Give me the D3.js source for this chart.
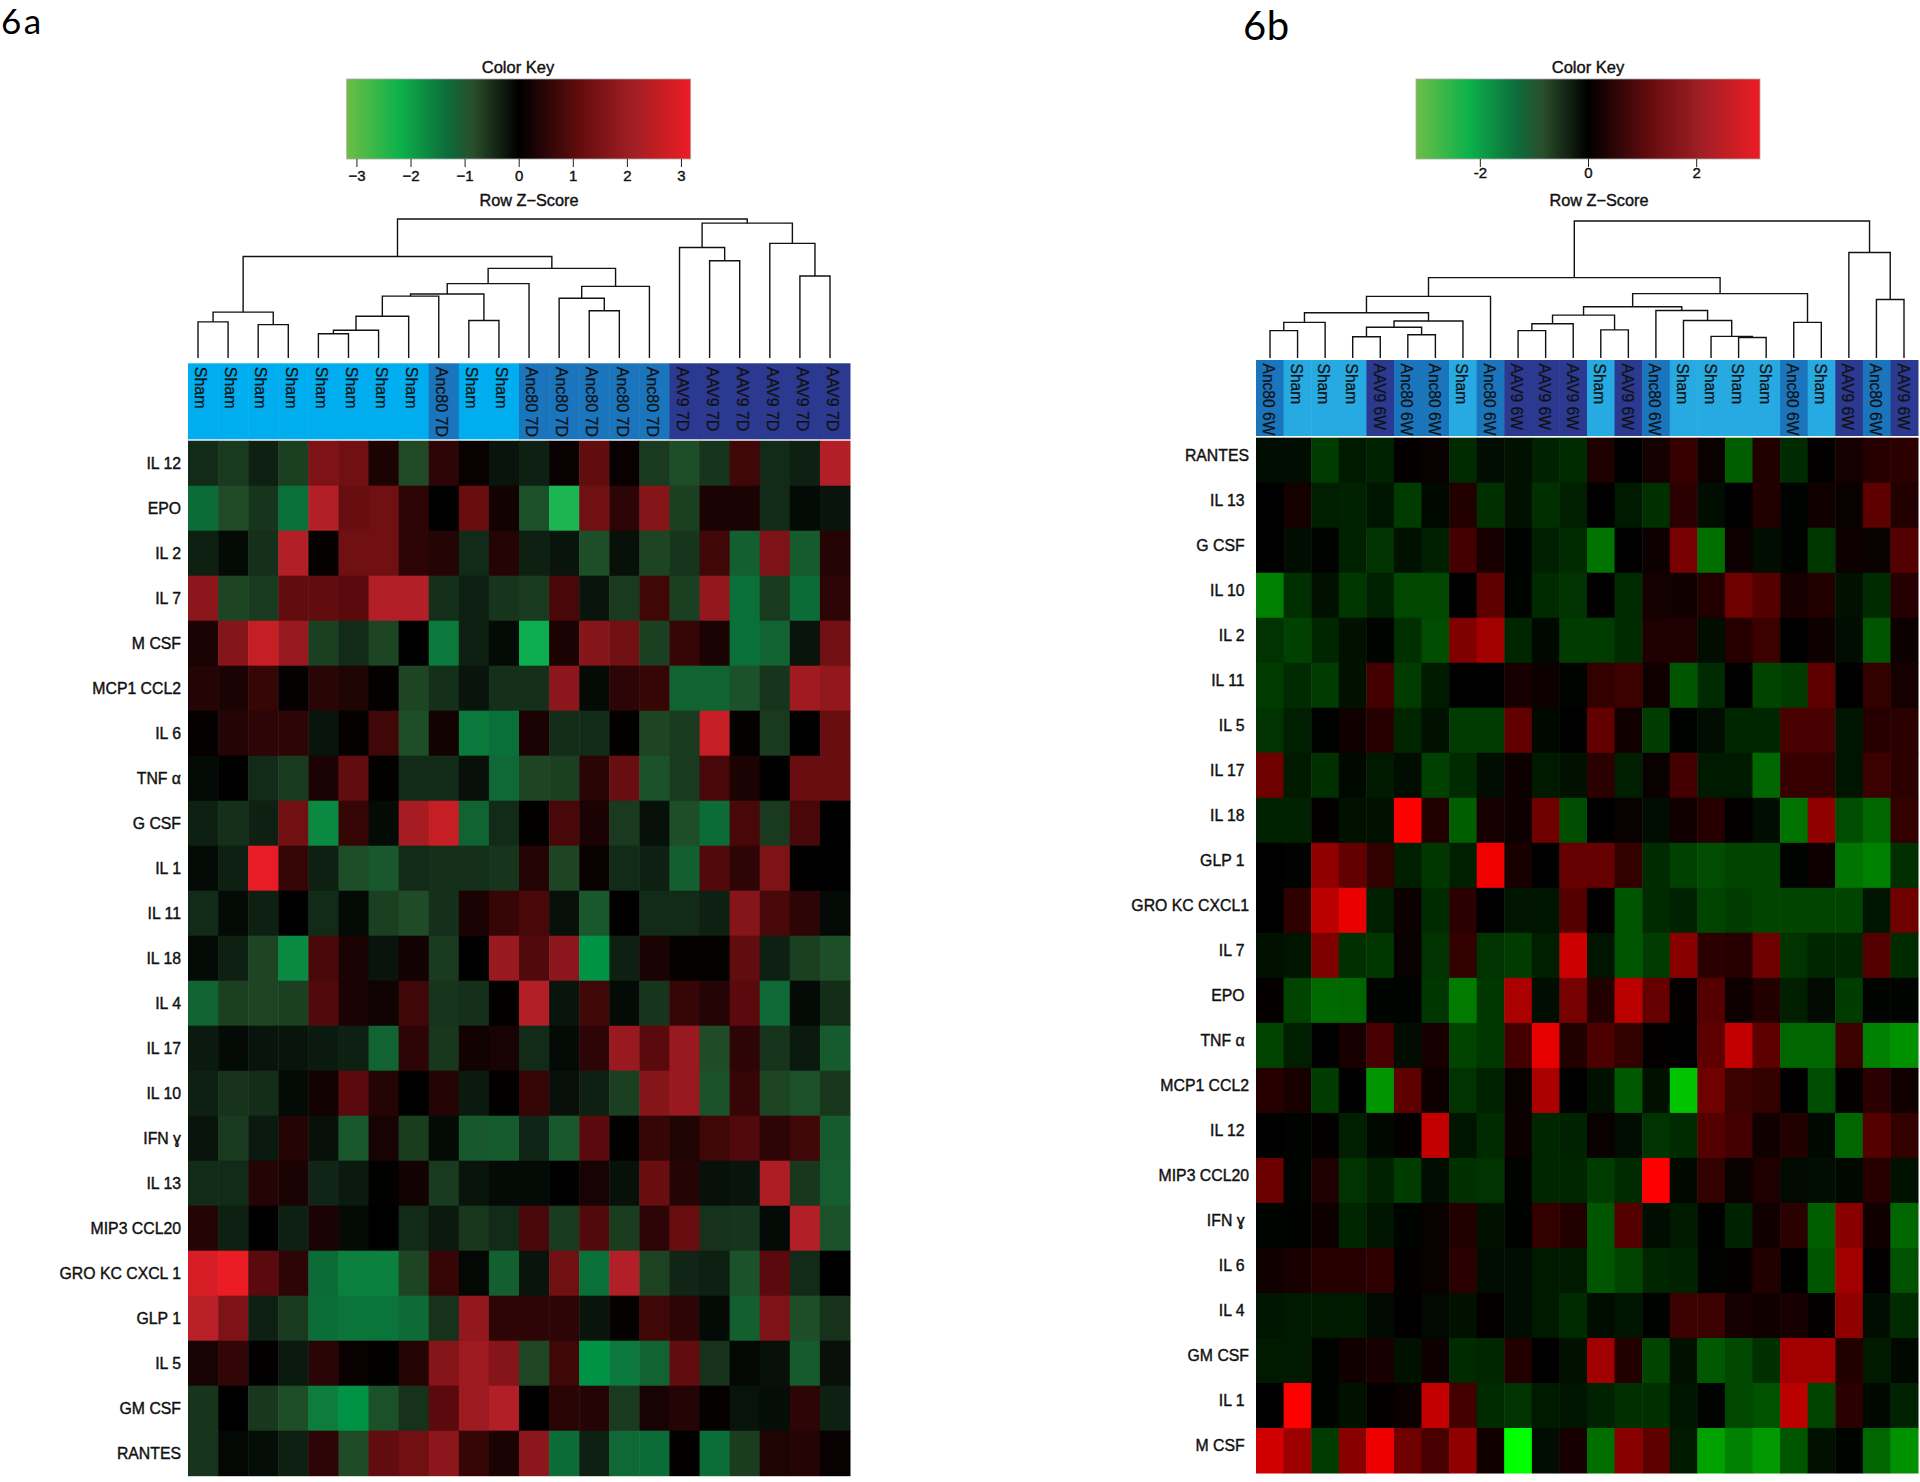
<!DOCTYPE html>
<html>
<head>
<meta charset="utf-8">
<script src="https://cdn.jsdelivr.net/npm/d3@7"></script>
<style>
  html, body { margin: 0; padding: 0; background: #fff; }
  text { font-family: "Liberation Sans", Arial, sans-serif; fill: #111; }
  .row-label text, .key-label, .key-axis text { stroke: #111; stroke-width: 0.4px; }
  .col-label { stroke: #111; stroke-width: 0.25px; }
  .panel-label { font-family: Lato, sans-serif; fill: #000; }
</style>
</head>
<body>
<svg id="chart" width="1920" height="1482"></svg>
<script>
const rowsA = ['IL 12', 'EPO', 'IL 2', 'IL 7', 'M CSF', 'MCP1 CCL2', 'IL 6', 'TNF α', 'G CSF', 'IL 1', 'IL 11', 'IL 18', 'IL 4', 'IL 17', 'IL 10', 'IFN ɣ', 'IL 13', 'MIP3 CCL20', 'GRO KC CXCL 1', 'GLP 1', 'IL 5', 'GM CSF', 'RANTES']
const colsA = ['Sham', 'Sham', 'Sham', 'Sham', 'Sham', 'Sham', 'Sham', 'Sham', 'Anc80 7D', 'Sham', 'Sham', 'Anc80 7D', 'Anc80 7D', 'Anc80 7D', 'Anc80 7D', 'Anc80 7D', 'AAV9 7D', 'AAV9 7D', 'AAV9 7D', 'AAV9 7D', 'AAV9 7D', 'AAV9 7D']
const valuesA = [
  [-.4, -.7, -.3, -.8, 1.5, 1.3, .3, -1, .5, .1, -.2, -.3, .1, 1.1, .1, -.7, -1.1, -.6, .7, -.4, -.3, 2.3],
  [-1.8, -1, -.6, -1.9, 2.3, 1.2, 1.3, .5, 0, 1.2, .2, -1.15, -2.6, 1.3, .5, 1.6, -.8, .3, .3, -.4, -.1, -.2],
  [-.3, -.1, -.5, 2.3, .05, 1.3, 1.3, .5, .4, -.4, .4, -.3, -.2, -1.1, -.15, -.9, -.6, .7, -1.5, 1.5, -1.4, .4],
  [1.7, -.9, -.7, 1.1, 1.1, 1, 2.3, 2.3, -.5, -.3, -.6, -.7, .8, -.2, -.7, .7, -.8, 1.8, -1.9, -.7, -1.8, .5],
  [.3, 1.6, 2.6, 1.9, -.8, -.4, -.9, 0, -2, -.3, -.1, -2.5, .3, 1.6, 1.3, -.8, .6, .3, -1.9, -1.6, -.2, 1.3],
  [.4, .3, .6, .05, .45, .35, .05, -.9, -.5, -.2, -.5, -.5, 1.7, -.1, .5, .6, -1.6, -1.6, -1.2, -.6, 2, 1.8],
  [.05, .4, .5, .5, -.2, .05, .7, -1.1, .2, -2, -1.9, .3, -.45, -.4, .03, -.9, -.7, 2.6, .05, -.7, 0, 1.2],
  [-.1, 0, -.4, -.7, .3, 1.1, .03, -.4, -.4, -.15, -1.7, -.9, -.8, .45, 1.2, -1.2, -.7, .8, .3, 0, 1.2, 1.2],
  [-.3, -.5, -.3, 1.3, -2.2, .6, -.1, 2.1, 2.6, -1.6, -.4, .03, .8, .3, -.7, -.15, -1.1, -1.8, .8, -.7, .8, 0],
  [-.1, -.3, 3.1, .6, -.3, -1.1, -1.3, -.4, -.5, -.5, -.6, .4, -.9, .1, -.4, -.3, -1.5, .9, .5, 1.5, 0, 0],
  [-.4, -.1, -.3, 0, -.4, -.1, -.8, -1.05, -.5, .3, .6, .8, -.15, -1.3, 0, -.4, -.4, -.3, 1.6, .8, .5, -.1],
  [-.1, -.3, -.9, -2.2, .8, .3, -.2, .2, -.7, 0, 1.9, .9, 1.7, -2.3, -.3, .3, .05, .05, 1.1, -.3, -.8, -1.1],
  [-1.6, -.8, -.9, -.8, .9, .3, .15, .7, -.6, -.5, .03, 2.3, -.2, .7, -.1, -.6, .6, .4, 1, -1.7, -.1, -.45],
  [-.25, -.1, -.2, -.2, -.25, -.3, -1.6, .5, -.65, .2, .25, -.4, -.1, .5, 1.9, 1, 1.9, -1.05, .5, -.6, -.25, -1.4],
  [-.3, -.55, -.45, -.1, .2, 1, .4, 0, .4, -.25, .03, .6, -.15, -.3, -.8, 1.6, 1.9, -1.2, .6, -.9, -1.15, -.65],
  [-.2, -.7, -.25, .4, -.15, -1.3, .25, -.75, -.1, -1.35, -1.4, -.35, -1.3, 1, .03, .6, .35, .7, .9, .5, .7, -1.4],
  [-.4, -.4, .4, .3, -.35, -.25, .03, .2, -.7, -.2, -.1, -.1, 0, .25, -.15, 1.2, .4, -.15, -.2, 2.2, -.65, -1.45],
  [.4, -.3, 0, -.3, .3, -.1, 0, -.4, -.25, -.65, -.4, .8, -.7, .9, -.75, .5, 1.2, -.55, -.6, -.1, 2.3, -1.2],
  [2.85, 3.15, 1, .5, -1.8, -2.1, -2.1, -.9, .6, -.08, -1.5, -.2, 1.3, -1.9, 2.3, -.85, -.35, -.3, -1.2, 1, -.4, 0],
  [2.4, 1.5, -.3, -.7, -1.85, -1.95, -1.95, -1.75, -.55, 1.8, .5, .5, .5, -.2, .05, .7, .5, -.1, -1.5, 1.5, -1.1, -.55],
  [.25, .55, .03, -.25, .45, .1, .03, .4, 1.6, 1.95, 1.6, -.95, .7, -2.3, -2, -1.6, 1.1, -.55, -.08, -.15, -1.4, -.15],
  [-.6, 0, -.65, -1.1, -2.05, -2.3, -1.15, -.55, 1, 1.95, 2.3, 0, .45, .4, -.7, .25, .4, .05, -.18, -.12, .5, -.3],
  [-.6, -.08, -.12, -.3, .5, -1.05, 1.1, 1.3, 1.7, .6, .3, 1.7, -1.8, -.3, -1.7, -1.8, .03, -1.85, -.75, .35, .4, .08]
]
// dendrogram merges as [height, left, right], a plain number is a column index
const treeA = [1,
  [.73,
    [.33, [.26, 0, 1], [.24, 2, 3]],
    [.645,
      [.535,
        [.46,
          [.445, [.3, [.2, [.175, 4, 5], 6], 7], 8],
          [.27, 9, 10]],
        11],
      [.515, [.43, 12, [.34, 13, 14]], 15]]],
  [.97,
    [.795, 16, [.7, 17, 18]],
    [.825, 19, [.59, 20, 21]]]]

const rowsB = ['RANTES', 'IL 13 ', 'G CSF ', 'IL 10 ', 'IL 2 ', 'IL 11 ', 'IL 5 ', 'IL 17 ', 'IL 18 ', 'GLP 1 ', 'GRO KC CXCL1', 'IL 7 ', 'EPO ', 'TNF α ', 'MCP1 CCL2', 'IL 12 ', 'MIP3 CCL20', 'IFN ɣ ', 'IL 6 ', 'IL 4 ', 'GM CSF', 'IL 1 ', 'M CSF ']
const colsB = ['Anc80 6W', 'Sham', 'Sham', 'Sham', 'AAV9 6W', 'Anc80 6W', 'Anc80 6W', 'Sham', 'Anc80 6W', 'AAV9 6W', 'AAV9 6W', 'AAV9 6W', 'Sham', 'AAV9 6W', 'Anc80 6W', 'Sham', 'Sham', 'Sham', 'Sham', 'Anc80 6W', 'Sham', 'AAV9 6W', 'Anc80 6W', 'AAV9 6W']
const valuesB = [
  [-.15, -.15, -.7, -.3, -.4, .05, .1, -.5, -.15, -.2, -.4, -.5, .35, 0, .25, .65, .1, -1.1, .4, -.5, .03, .25, .45, .5],
  [0, .25, -.35, -.4, -.25, -.7, -.1, .4, -.55, -.2, -.55, -.35, 0, -.3, -.55, .5, -.15, 0, .4, -.05, .2, .1, 1.1, .4],
  [0, -.15, -.03, -.4, -.6, -.2, -.35, .8, .3, -.05, -.35, -.5, -1.35, 0, .15, 1.4, -1.3, .15, -.15, -.03, -.65, .15, .1, 1],
  [-1.5, -.55, -.2, -.65, -.4, -.85, -.85, 0, 1.1, -.05, -.5, -.6, 0, -.5, .25, .2, .4, 1.3, 1, .3, .4, -.2, -.5, .45],
  [-.6, -.75, -.45, -.2, -.05, -.55, -.9, 1.5, 1.9, -.45, -.1, -.7, -.7, -.5, .35, .35, -.15, .45, .7, 0, .15, -.15, -1, .15],
  [-.7, -.5, -.7, -.2, .8, -.7, -.3, 0, 0, .3, .15, -.05, .6, .7, .2, -1, -.5, 0, -.8, -.7, 1.1, 0, .6, .25],
  [-.6, -.35, -.02, .2, .45, -.45, -.2, -.7, -.7, 1.15, -.1, 0, 1.15, .2, -.7, -.02, -.15, -.45, -.45, .85, .85, -.25, .45, .5],
  [1.3, -.3, -.55, -.1, -.3, -.15, -.75, -.5, -.15, .15, -.3, -.2, .5, -.35, .1, .8, -.3, -.3, -1.2, .65, .65, -.25, .7, .5],
  [-.4, -.4, .03, -.2, -.2, 3, .4, -1.1, .3, .15, 1.3, -.9, 0, .1, -.15, .2, .45, .03, -.15, -1.35, 1.7, -.9, -1.2, .6],
  [0, -.03, 1.7, 1.15, .6, -.35, -.65, -.35, 2.85, .3, 0, 1.2, 1.2, .6, -.5, -.75, -.9, -.8, -.8, -.03, .15, -1.35, -1.5, -.55],
  [0, .55, 2.2, 2.75, -.35, .15, -.5, .5, 0, -.25, -.25, 1, .03, -1, -.5, -.4, -.8, -.7, -.8, -.8, -.8, -.8, -.25, 1.3],
  [-.2, -.25, 1.5, -.55, -.65, .1, -.6, .6, -.6, -.7, -.35, 2.4, -.25, -1, -.7, 1.6, .5, .45, 1.3, -.6, -.45, -.45, 1, -.5],
  [.05, -.8, -1.25, -1.2, -.05, -.03, -.65, -1.45, -.65, 2, -.15, 1.4, .4, 2.2, 1.2, .05, 1, .15, .4, -.35, -.12, -.7, -.03, -.03],
  [-.8, -.35, 0, .3, .85, -.15, .3, -.8, -.65, .8, 2.7, .4, .9, .6, .05, 0, 1.1, 2.3, 1.1, -1.2, -1.2, .7, -1.5, -1.7],
  [.45, .3, -.7, 0, -1.75, 1.1, .15, -.6, -.4, .1, 2, 0, -.2, -1.05, -.2, -2.3, 1.3, .7, .6, 0, -.9, .03, .5, .2],
  [0, -.03, .05, -.35, -.1, .05, 2.3, -.25, -.5, .15, -.45, -.4, .1, -.15, -.6, -.5, 1, .8, .2, .4, -.1, -1.2, 1, .6],
  [1.25, -.05, .35, -.6, -.4, -.7, -.15, -.55, -.6, -.03, -.45, -.45, -.7, -.5, 3, -.1, .6, .1, .35, -.12, -.15, -.1, .45, -.2],
  [-.05, -.02, .15, -.45, -.25, -.05, .1, .4, -.2, -.02, .6, .4, -1, 1, -.15, -.3, -.02, -.4, .2, .5, -1.1, 1.6, .2, -1.2],
  [.2, .3, .45, .45, .55, .03, .1, .5, -.15, -.15, -.3, -.3, -1, -.8, -.45, -.4, -.03, .05, .4, 0, -1, 1.9, .02, -.95],
  [-.25, -.3, -.3, -.3, -.12, 0, -.12, -.2, .05, -.15, -.3, -.5, -.15, -.25, -.02, .7, .7, .25, .2, .3, .05, 1.7, -.15, -.5],
  [-.3, -.3, -.03, .2, .3, -.2, .15, -.5, -.45, .4, 0, -.2, 1.9, .4, -.8, -.2, -1.05, -.85, -.55, 1.9, 1.9, .4, -.3, -.1],
  [0, 3, -.03, -.2, .03, .12, 2.3, .8, -.5, -.6, -.3, -.25, -.4, -.55, -.55, -.25, -.03, -.85, -.95, 2.2, -.8, .5, -.1, -.4],
  [2.45, 1.85, -.7, 1.6, 2.8, 1.3, .85, 1.7, .2, -3, -.15, .3, -1.3, 1.6, 1.1, -.3, -1.9, -1.5, -1.8, -1, -.2, -.05, -1.2, -1.7]
]
const treeB = [1,
  [.587,
    [.45,
      [.33,
        [.26, [.2, 0, 1], 2],
        [.27, [.225, [.155, 3, 4], [.17, 5, 6]], 7]],
      8],
    [.47,
      [.374,
        [.313, [.25, [.2, 9, 10], 11], [.205, 12, 13]],
        [.347, 14, [.274, 15, [.158, 16, [.15, 17, 18]]]]],
      [.26, 19, 20]]],
  [.77, 21, [.427, 22, 23]]]

const keyTicksA = [-3, -2, -1, 0, 1, 2, 3]
const keyTicksB = [-2, 0, 2]
const keyStops = [-3.18, -2.2, -1.3, -.85, 0, 1.2, 2.1, 3.18]
const keyColors = ['#6dbe45', '#0db14b', '#0c6b3a', '#2a4f2c', '#000000', '#690d0f', '#a01f24', '#ed1c24']

const keyColor = d3.scaleLinear().domain(keyStops).range(keyColors)
const cellColorA = d3.scaleLinear()
  .domain([-3.18, -2.6, -2.5, -2.3, -2.15, -1.9, -1, -.4, 0, 1, 1.6, 2.3, 3.18])
  .range(['#6abd45', '#1bb552', '#0bad4e', '#009245', '#0d8540', '#0a7039', '#204a25', '#122a18', '#000000', '#5a0a0c', '#851519', '#b21f26', '#ed1c24'])
const cellColorB = d3.scaleLinear().domain([-3, 0, 3]).range(['#00ff00', '#000000', '#ff0000'])

const svg = d3.select('#chart')
const defs = svg.append('defs')

function drawTree (g, tree, x, y) {
  const walk = node => {
    if (typeof node === 'number') return { x: x(node), y: y(0) }
    const [h, left, right] = node
    const a = walk(left)
    const b = walk(right)
    g.append('path')
      .attr('d', `M${a.x},${a.y}V${y(h)}H${b.x}V${b.y}`)
    return { x: (a.x + b.x) / 2, y: y(h) }
  }
  walk(tree)
}

function drawKey (g, o) {
  const x = d3.scaleLinear().domain([-3.18, 3.18]).range(o.keyX)
  const offset = d3.scaleLinear().domain([-3.18, 3.18]).range([0, 100])

  defs.append('linearGradient')
    .attr('id', o.keyId)
    .selectAll('stop')
    .data(keyStops)
    .enter().append('stop')
    .attr('offset', d => `${offset(d)}%`)
    .attr('stop-color', d => keyColor(d))

  g.append('rect')
    .attr('x', o.keyX[0]).attr('y', 79)
    .attr('width', o.keyX[1] - o.keyX[0]).attr('height', 80)
    .attr('fill', `url(#${o.keyId})`)
    .attr('stroke', '#aaa').attr('stroke-width', 0.8)

  const axis = d3.axisBottom(x).tickValues(o.keyTicks).tickSize(8).tickPadding(o.tickPad)
    .tickFormat(o.tickFormat)
  const ax = g.append('g').attr('class', 'key-axis')
    .attr('transform', 'translate(0,159)')
    .call(axis)
  ax.select('.domain').remove()
  ax.selectAll('line').attr('stroke', '#222')
  ax.selectAll('text').attr('font-size', 15).attr('fill', '#111')

  g.append('text').attr('class', 'key-label')
    .attr('x', o.keyTitleX).attr('y', 73)
    .attr('text-anchor', 'middle').attr('font-size', 16.5)
    .text('Color Key')
  g.append('text').attr('class', 'key-label')
    .attr('x', o.scoreX).attr('y', 206)
    .attr('text-anchor', 'middle').attr('font-size', 16.3)
    .text('Row Z\u2212Score')
}

function drawPanel (o) {
  const g = svg.append('g')
  const nCols = o.cols.length
  const x = d3.scaleBand().domain(d3.range(nCols)).range(o.heatX)
  const y = d3.scaleBand().domain(o.rows).range(o.heatY)

  g.append('text').attr('class', 'panel-label')
    .attr('x', o.titleX).attr('y', o.titleY)
    .attr('font-size', o.titleFont)
    .attr('letter-spacing', o.titleSpacing)
    .text(o.title)

  drawKey(g, o)

  // dendrogram above the columns
  const treeX = d3.scaleLinear().domain([0, nCols - 1]).range(o.treeX)
  const treeY = d3.scaleLinear().domain([0, 1]).range(o.treeY)
  const treeG = g.append('g')
    .attr('fill', 'none').attr('stroke', '#111').attr('stroke-width', 1.4)
  drawTree(treeG, o.tree, treeX, treeY)

  // coloured column side bar
  const bar = g.append('g').selectAll('g')
    .data(o.cols)
    .enter().append('g')
  bar.append('rect')
    .attr('x', (d, i) => x(i))
    .attr('y', o.barY[0])
    .attr('width', x.bandwidth() + 0.5)
    .attr('height', o.barY[1] - o.barY[0])
    .attr('fill', d => o.groupColor[d.split(' ')[0]])
  bar.append('text')
    .attr('class', 'col-label')
    .attr('transform', (d, i) => `translate(${x(i) + x.bandwidth() / 2 + o.labelDx},${o.barY[0] + 3.5}) rotate(90)`)
    .attr('dy', '0.36em')
    .attr('font-size', o.colFont)
    .text(d => d)

  // heatmap cells
  const row = g.append('g').selectAll('g')
    .data(o.values)
    .enter().append('g')
    .attr('transform', (d, i) => `translate(0,${y(o.rows[i])})`)
  row.selectAll('rect')
    .data(d => d)
    .enter().append('rect')
    .attr('x', (d, i) => x(i))
    .attr('width', x.bandwidth() + 0.5)
    .attr('height', y.bandwidth() + 0.5)
    .attr('fill', d => o.cellColor(d))

  const rowAxis = g.append('g').attr('class', 'row-label')
    .attr('transform', `translate(${o.heatX[0]},${o.rowDy})`)
    .call(d3.axisLeft(y).tickSize(0).tickPadding(o.rowPad))
  rowAxis.select('.domain').remove()
  rowAxis.selectAll('text').attr('font-size', 15.8).attr('fill', '#111').style('white-space', 'pre')
}

drawPanel({
  title: '6a', titleX: 1, titleY: 34, titleFont: 35, titleSpacing: 2.5,
  rows: rowsA, cols: colsA, values: valuesA, tree: treeA,
  cellColor: cellColorA,
  groupColor: { Sham: '#00aeef', Anc80: '#1b75bc', AAV9: '#2b3990' },
  heatX: [188, 850], heatY: [440.7, 1475.7], barY: [363.3, 439.3],
  treeX: [198, 830], treeY: [358, 219],
  labelDx: -2, colFont: 16, rowDy: 1, rowPad: 7,
  keyId: 'key-a', keyX: [346.7, 690.7], keyTicks: keyTicksA, tickPad: 3, keyTitleX: 518, scoreX: 529,
  tickFormat: d3.format('d')
})

drawPanel({
  title: '6b', titleX: 1243, titleY: 40, titleFont: 40, titleSpacing: 0.5,
  rows: rowsB, cols: colsB, values: valuesB, tree: treeB,
  cellColor: cellColorB,
  groupColor: { Sham: '#27aae1', Anc80: '#1b75bc', AAV9: '#2b3990' },
  heatX: [1256, 1918], heatY: [437.7, 1473], barY: [360, 436],
  treeX: [1270, 1904], treeY: [358, 221],
  labelDx: -1, colFont: 15.6, rowDy: -4.5, rowPad: 7,
  keyId: 'key-b', keyX: [1416, 1760], keyTicks: keyTicksB, tickPad: 0, keyTitleX: 1588, scoreX: 1599,
  tickFormat: d => String(d)
})
</script>
</body>
</html>
